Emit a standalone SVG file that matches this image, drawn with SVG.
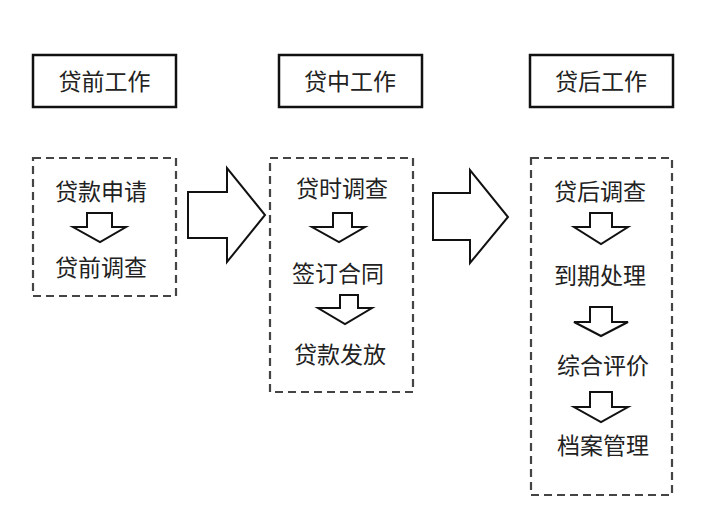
<svg xmlns="http://www.w3.org/2000/svg" width="717" height="506" viewBox="0 0 717 506">
<style>
.t{font-family:"Noto Sans CJK SC","Noto Sans",sans-serif;font-size:23px;font-weight:400;fill:#222;text-anchor:middle;dominant-baseline:central}
.box{fill:#fff;stroke:#111;stroke-width:2.5}
.dash{fill:none;stroke:#444;stroke-width:2.2;stroke-dasharray:8 5}
.arr{fill:#fff;stroke:#111;stroke-width:2;stroke-linejoin:miter}
</style>
<rect width="717" height="506" fill="#fff"/>
<g id="h1"><rect class="box" x="33" y="55" width="143" height="52"/><text class="t" x="104.5" y="80">贷前工作</text></g>
<g id="h2"><rect class="box" x="279" y="55" width="143" height="52"/><text class="t" x="350" y="80">贷中工作</text></g>
<g id="h3"><rect class="box" x="530" y="55" width="143" height="52"/><text class="t" x="601" y="80">贷后工作</text></g>
<g id="g1"><rect class="dash" x="33" y="158" width="143" height="138"/>
<text class="t" x="101" y="190">贷款申请</text>
<text class="t" x="101" y="266">贷前调查</text></g>
<g id="g2"><rect class="dash" x="270" y="158" width="143" height="234"/>
<text class="t" x="342" y="187">贷时调查</text>
<text class="t" x="338" y="272">签订合同</text>
<text class="t" x="340" y="353">贷款发放</text></g>
<g id="g3"><rect class="dash" x="531" y="158" width="141" height="337"/>
<text class="t" x="600" y="190">贷后调查</text>
<text class="t" x="600" y="274">到期处理</text>
<text class="t" x="603" y="364">综合评价</text>
<text class="t" x="603" y="444">档案管理</text></g>
<g id="connectors">
<polygon class="arr" points="87,213 112,213 112,227 126,227 100,242 73,227 87,227"/>
<polygon class="arr" points="333,213 352,213 352,227 365,227 339,242 312,227 333,227"/>
<polygon class="arr" points="340,295 358,295 358,308 372,308 345,324 318,308 340,308"/>
<polygon class="arr" points="590,213 612,213 612,227 628,227 601,244 574,227 590,227"/>
<polygon class="arr" points="590,307 612,307 612,322 628,322 601,336 574,322 590,322"/>
<polygon class="arr" points="590,392 612,392 612,407 628,407 601,422 574,407 590,407"/>
<polygon class="arr" points="188,192 227,192 227,168 265,215 227,262 227,238 188,238"/>
<polygon class="arr" points="433,193 470,193 470,170 508,217 470,263 470,240 433,240"/>
</g>
</svg>
